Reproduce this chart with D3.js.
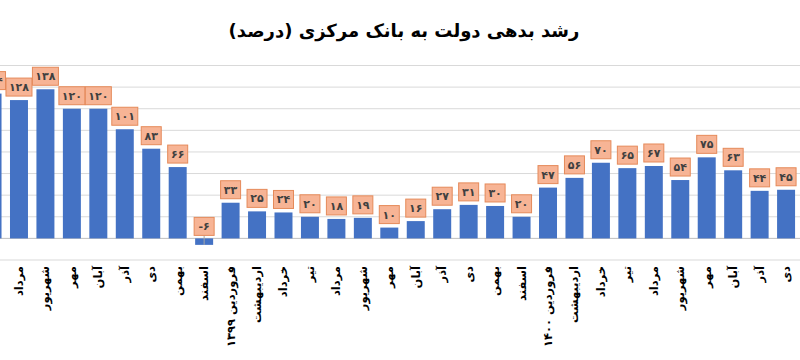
<!DOCTYPE html>
<html>
<head>
<meta charset="utf-8">
<script src="https://cdn.jsdelivr.net/npm/d3@7/dist/d3.min.js"></script>
<style>
html,body{margin:0;padding:0;background:#fff;}
svg{display:block;}
</style>
</head>
<body>
<svg id="chart" width="800" height="360"></svg>
<script>
const title = "رشد بدهی دولت به بانک مرکزی (درصد)";
const categories = ["تیر","مرداد","شهریور","مهر","آبان","آذر","دی","بهمن","اسفند",
  "فروردین ۱۳۹۹","اردیبهشت","خرداد","تیر","مرداد","شهریور","مهر","آبان","آذر","دی","بهمن","اسفند",
  "فروردین ۱۴۰۰","اردیبهشت","خرداد","تیر","مرداد","شهریور","مهر","آبان","آذر","دی"];
const values = [134,128,138,120,120,101,83,66,-6,33,25,24,20,18,19,10,16,27,31,30,20,47,56,70,65,67,54,75,63,44,45];
const gridTicks = [-20,0,20,40,60,80,100,120,140,160];

const faDigits = "۰۱۲۳۴۵۶۷۸۹";
const toFa = v => String(v).replace(/\d/g, d => faDigits[+d]);

const svg = d3.select("#chart");
const x = d3.scaleBand().domain(d3.range(categories.length))
  .range([-20.7, 799.3]).paddingInner(0.32).paddingOuter(0.16);
const y = d3.scaleLinear().domain([-20,160]).range([260, 65.5]);

// title
svg.append("text").attr("x", 404).attr("y", 37)
  .attr("text-anchor","middle")
  .attr("font-family","DejaVu Sans, sans-serif").attr("font-weight","bold")
  .attr("font-size", 18).attr("fill","#000").text(title);

// gridlines
svg.append("g").selectAll("line").data(gridTicks).join("line")
  .attr("x1",0).attr("x2",800)
  .attr("y1",d=>y(d)).attr("y2",d=>y(d))
  .attr("stroke", d=> d===0 ? "#bfbfbf" : "#d9d9d9").attr("stroke-width",1);

// bars
svg.append("g").selectAll("rect").data(values).join("rect")
  .attr("x",(d,i)=>x(i)).attr("width",x.bandwidth())
  .attr("y",d=>y(Math.max(0,d))).attr("height",d=>Math.abs(y(d)-y(0)))
  .attr("fill","#4472C4");

// data labels
const lg = svg.append("g").attr("font-family","DejaVu Sans, sans-serif")
  .attr("font-size",11).attr("font-weight","bold");
values.forEach((v,i)=>{
  const cx = x(i)+x.bandwidth()/2;
  const txt = toFa(v);
  const w = v < 0 ? 20 : (Math.abs(v) >= 100 ? 26 : 20);
  const h = 18;
  const bottom = v < 0 ? y(0)-3 : y(v)-4;
  if (v < 0) {
    lg.append("line").attr("x1",cx).attr("x2",cx).attr("y1",bottom).attr("y2",y(v))
      .attr("stroke","#a6a6a6").attr("stroke-width",1);
  }
  lg.append("rect").attr("x",cx-w/2).attr("y",bottom-h).attr("width",w).attr("height",h)
    .attr("fill","#F7B495").attr("stroke","#E58A5A").attr("stroke-width",1);
  lg.append("text").attr("x",cx).attr("y",bottom-h/2+4)
    .attr("text-anchor","middle").attr("fill","#404040").attr("direction","ltr").text(txt);
});

// x labels
svg.append("g").attr("font-family","DejaVu Sans, sans-serif").attr("font-size",11.5)
  .attr("font-weight","bold")
  .selectAll("text").data(categories).join("text")
  .attr("transform",(d,i)=>`translate(${x(i)+x.bandwidth()/2+4},266) rotate(-90)`)
  .attr("text-anchor","end").attr("fill","#000").text(d=>d);
</script>
</body>
</html>
